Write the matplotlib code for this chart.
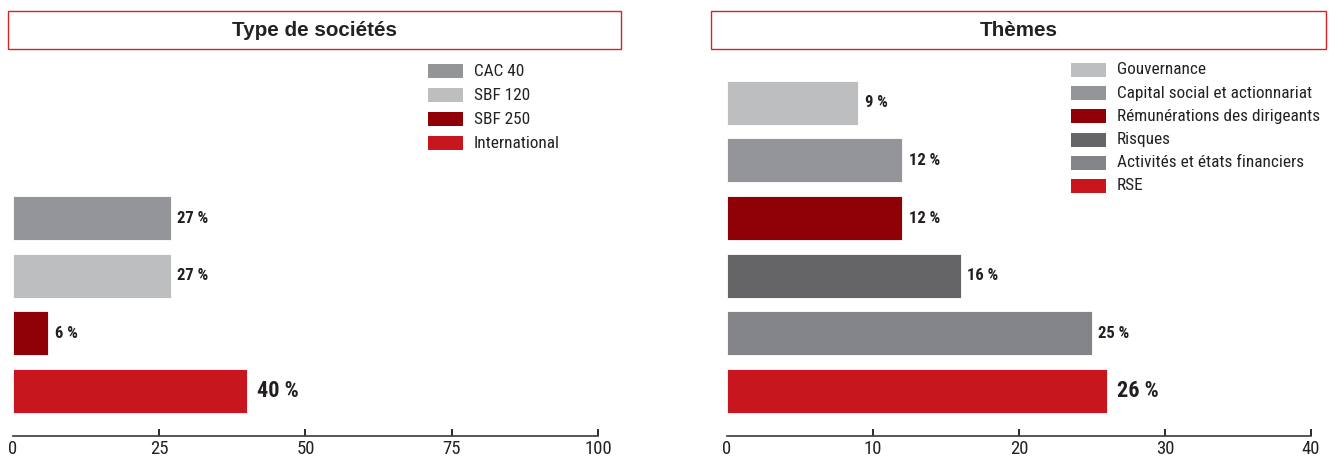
import matplotlib.pyplot as plt
import matplotlib.font_manager as fm
from matplotlib.patches import Rectangle


def first_font(candidates):
    for name in candidates:
        try:
            fm.findfont(fm.FontProperties(family=name), fallback_to_default=False)
            return name
        except ValueError:
            continue
    return 'DejaVu Sans'


NARROW = first_font(['Roboto Condensed', 'Archivo Narrow', 'PT Sans Narrow',
                     'Liberation Sans Narrow', 'Sofia Sans Condensed'])
plt.rcParams['font.family'] = [NARROW, 'DejaVu Sans']

# Type de sociétés
type_labels = ['CAC 40', 'SBF 120', 'SBF 250', 'International']
type_values = [27, 27, 6, 40]
type_colors = ['#939598', '#bcbec0', '#8f0007', '#c8161e']
type_ticks = [0, 25, 50, 75, 100]

# Thèmes
theme_labels = ['Gouvernance', 'Capital social et actionnariat',
                'Rémunérations des dirigeants', 'Risques',
                'Activités et états financiers', 'RSE']
theme_values = [9, 12, 12, 16, 25, 26]
theme_colors = ['#bcbec0', '#939598', '#8f0007', '#656567', '#838487', '#c8161e']
theme_ticks = [0, 10, 20, 30, 40]

W, H = 1337, 459
fig = plt.figure(figsize=(W / 100, H / 100), dpi=100)


def fx(x):
    return x / W


def fy(y):
    return 1 - y / H


def draw_panel(left, right, labels, values, colors, ticks, box, title, legend_x, legend_y, legend_step):
    ax = fig.add_axes([fx(left), fy(436), fx(right - left), (436 - 60) / H])
    n = len(values)
    # top bar first, last bar sits at y=0
    ypos = list(range(n - 1, -1, -1))
    ax.barh(ypos, values, height=0.76, color=colors, edgecolor='white', linewidth=0.6)
    ax.set_xlim(ticks[0], ticks[-1])
    ax.set_ylim(-0.78, 5.74)
    for sp in ['top', 'right', 'left']:
        ax.spines[sp].set_visible(False)
    ax.spines['bottom'].set_color('#3a3a3a')
    ax.spines['bottom'].set_linewidth(1.2)
    ax.set_yticks([])
    ax.set_xticks(ticks)
    ax.set_xticklabels([str(t) for t in ticks])
    ax.tick_params(axis='x', direction='in', length=5, width=1.4, color='#2a2a2a',
                   labelsize=13.5, labelcolor='#222222', pad=3)
    ax.xaxis.get_major_ticks()[0].tick1line.set_visible(False)
    ax.set_facecolor('none')

    span = ticks[-1] - ticks[0]
    for i, (y, v) in enumerate(zip(ypos, values)):
        big = i == n - 1
        ax.text(v + span * (0.017 if big else 0.011), y, f'{v} %',
                va='center', ha='left', fontweight='black' if big else 'bold',
                fontsize=16 if big else 12, color='#231f20')

    # title box
    bx0, by0, bx1, by1 = box
    fig.add_artist(Rectangle((fx(bx0), fy(by1)), fx(bx1 - bx0), (by1 - by0) / H,
                             transform=fig.transFigure, facecolor='white',
                             edgecolor='#d2232a', linewidth=1.0))
    fig.text(fx((bx0 + bx1) / 2), fy((by0 + by1) / 2), title, ha='center', va='center',
             fontsize=14.9, fontweight='bold', color='#222222',
             family=['Liberation Sans', 'DejaVu Sans'])

    # legend
    for i, (lab, col) in enumerate(zip(labels, colors)):
        yc = legend_y + i * legend_step
        fig.add_artist(Rectangle((fx(legend_x), fy(yc + 7)), fx(35), 14 / H,
                                 transform=fig.transFigure, facecolor=col,
                                 edgecolor='none'))
        fig.text(fx(legend_x + 46), fy(yc), lab, ha='left', va='center',
                 fontsize=12.4, color='#222222')
    return ax


draw_panel(13, 598, type_labels, type_values, type_colors, type_ticks,
           (8, 11, 621, 49), 'Type de sociétés', 428, 71, 24)
draw_panel(727, 1311, theme_labels, theme_values, theme_colors, theme_ticks,
           (711, 11, 1326, 49), 'Thèmes', 1071, 70, 23.2)

fig.savefig('out.png', dpi=100, facecolor='white')
